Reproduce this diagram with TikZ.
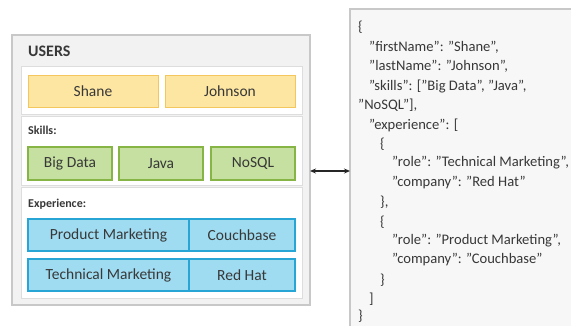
\documentclass[tikz,border=0pt]{standalone}
\usepackage{fontspec}
\setmainfont{Carlito}
\usetikzlibrary{arrows.meta}
\definecolor{txt}{HTML}{383838}
\definecolor{outerfill}{HTML}{F2F2F2}
\definecolor{outerline}{HTML}{C8C8C8}
\definecolor{panelline}{HTML}{DDDDDD}
\definecolor{yfill}{HTML}{FDE6A2}
\definecolor{yline}{HTML}{F3C75E}
\definecolor{gfill}{HTML}{C5E0A0}
\definecolor{gline}{HTML}{86B545}
\definecolor{bfill}{HTML}{9FDCF1}
\definecolor{bline}{HTML}{27A6D6}
\definecolor{jfill}{HTML}{F7F7F7}
\tikzset{
  outerbox/.style={draw=outerline, fill=outerfill, line width=1.2pt},
  panel/.style={draw=panelline, fill=white, line width=0.8pt},
  boxfont/.style={text=txt, font=\fontsize{15.5}{18}\selectfont},
  ybox/.style={draw=yline, fill=yfill, line width=1pt, boxfont},
  gbox/.style={draw=gline, fill=gfill, line width=1.2pt, boxfont},
  bbox/.style={draw=bline, fill=bfill, line width=1.2pt, boxfont},
  lbl/.style={anchor=west, text=txt, font=\bfseries\fontsize{12}{14}\selectfont, inner sep=0pt},
  jline/.style={anchor=west, text=txt, font=\fontsize{14.6}{16}\selectfont, inner sep=0pt},
}
\begin{document}
\begin{tikzpicture}[x=1pt,y=-1pt]
\useasboundingbox (0,0) rectangle (571,325);
\clip (0,0) rectangle (571,325);
\fill[white] (0,0) rectangle (571,325);
% users box
\draw[outerbox] (12,35) rectangle (310,305);
\node[coordinate] (uE) at (310,171) {};
\node[anchor=west, text=txt, font=\bfseries\fontsize{16}{18}\selectfont, inner sep=0pt] (users) at (28,51) {USERS};
\draw[panel] (21,66) rectangle (302,114);
\draw[panel] (21,116) rectangle (302,185);
\draw[panel] (21,187) rectangle (302,298);
% names
\draw[ybox] (28,75) rectangle (158,107) node[midway] (shane) {Shane};
\draw[ybox] (165,75) rectangle (295,107) node[midway] (johnson) {Johnson};
% skills
\node[lbl] (skills) at (28,130) {Skills:};
\draw[gbox] (28,147) rectangle (112,180) node[midway] (bigdata) {Big Data};
\draw[gbox] (119,147) rectangle (203,180) node[midway] (java) {Java};
\draw[gbox] (211,147) rectangle (295,180) node[midway] (nosql) {NoSQL};
% experience
\node[lbl] (exp) at (28,204) {Experience:};
\draw[bbox] (28,219) rectangle (189,251) node[midway] (pm) {Product Marketing};
\draw[bbox] (189,219) rectangle (295,251) node[midway] (cb) {Couchbase};
\draw[bbox] (28,259) rectangle (189,291) node[midway] (tm) {Technical Marketing};
\draw[bbox] (189,259) rectangle (295,291) node[midway] (rh) {Red Hat};
% json box
\draw[draw=outerline, fill=jfill, line width=1.2pt] (350,9) rectangle (600,340);
\node[coordinate] (jW) at (350,171) {};
\node[jline] (j1) at (358,27) {\{};
\node[jline] (j2) at (369,47) {"firstName": "Shane",};
\node[jline] (j3) at (369,66) {"lastName": "Johnson",};
\node[jline] (j4) at (369,86) {"skills": ["Big Data", "Java",};
\node[jline] (j5) at (358,105) {"NoSQL"],};
\node[jline] (j6) at (369,125) {"experience": [};
\node[jline] (j7) at (380,144) {\{};
\node[jline] (j8) at (392,163) {"role": "Technical Marketing",};
\node[jline] (j9) at (392,183) {"company": "Red Hat"};
\node[jline] (j10) at (380,202) {\},};
\node[jline] (j11) at (380,222) {\{};
\node[jline] (j12) at (392,241) {"role": "Product Marketing",};
\node[jline] (j13) at (392,260) {"company": "Couchbase"};
\node[jline] (j14) at (380,280) {\}};
\node[jline] (j15) at (369,299) {]};
\node[jline] (j16) at (358,316) {\}};
% arrow
\draw[{Stealth[length=6pt,width=5pt]}-{Stealth[length=6pt,width=5pt]}, line width=1.4pt, draw=black!85] (uE) -- (jW);
\end{tikzpicture}
\end{document}
